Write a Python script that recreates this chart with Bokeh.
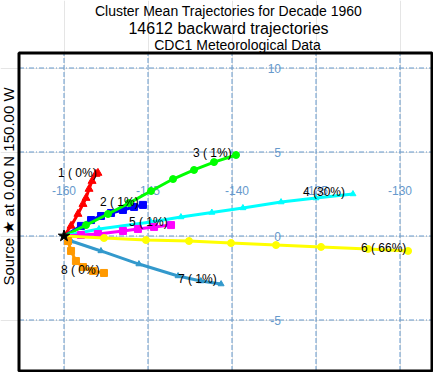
from bokeh.plotting import figure
from bokeh.models import Range1d
from bokeh.core.properties import value
from bokeh.embed import file_html
from bokeh.resources import INLINE

# ---------------- data ----------------
title_lines = ["Cluster Mean Trajectories for Decade 1960",
               "14612 backward trajectories",
               "CDC1 Meteorological Data"]
side_text = "Source \u2605 at 0.00 N 150.00 W"

source_lon = [-150.0]
source_lat = [0.0]

lon_grid = [-150, -145, -140, -135, -130]
lon_grid_labels = ["-160", "-145", "-140", "-135", "-130"]
lat_grid = [10, 5, 0, -5]
lat_grid_labels = ["10", "5", "0", "-5"]

cluster_labels = ["1 ( 0%)", "2 ( 1%)", "3 ( 1%)", "4 (30%)",
                  "5 ( 1%)", "6 ( 66%)", "7 ( 1%)", "8 ( 0%)"]

c1_lon = [-150.0, -149.58, -149.17, -148.87, -148.69, -148.51, -148.33, -148.10, -147.98]
c1_lat = [0.0, 0.60, 1.31, 1.90, 2.26, 2.80, 3.27, 3.69, 3.75]

c2_lon = [-150.0, -148.99, -148.39, -147.80, -147.20, -146.49, -145.83, -145.30]
c2_lat = [0.0, 0.60, 0.95, 1.19, 1.37, 1.55, 1.73, 1.85]

c3_lon = [-150.0, -148.69, -147.38, -146.13, -144.82, -143.51, -142.26, -141.07, -139.76]
c3_lat = [0.0, 0.65, 1.31, 1.96, 2.68, 3.39, 3.93, 4.40, 4.82]

c4_lon = [-150.0, -147.92, -144.82, -143.04, -141.20, -139.35, -137.08, -135.00, -132.80]
c4_lat = [0.0, 0.42, 0.83, 1.13, 1.40, 1.67, 2.02, 2.26, 2.50]

c5_lon = [-150.0, -148.99, -147.98, -146.49, -145.60, -144.64, -143.63]
c5_lat = [0.0, 0.06, 0.12, 0.30, 0.42, 0.54, 0.65]

c6_lon = [-150.0, -147.62, -145.12, -142.56, -140.06, -137.38, -134.70, -131.90, -129.52]
c6_lat = [0.0, -0.12, -0.24, -0.30, -0.42, -0.54, -0.65, -0.77, -0.89]

c7_lon = [-150.0, -149.58, -147.80, -145.54, -143.21, -141.85, -140.65]
c7_lat = [0.0, -0.30, -0.89, -1.67, -2.38, -2.68, -2.86]

c8_lon = [-150.0, -149.76, -149.58, -149.29, -148.87, -148.27, -147.62]
c8_lat = [0.0, -0.30, -0.89, -1.49, -1.85, -2.08, -2.20]

label_lon = [-150.357, -147.857, -142.321, -135.774, -146.131, -132.321, -143.214, -150.179]
label_lat = [3.75, 2.024, 4.940, 2.619, 0.833, -0.714, -2.560, -2.024]

# ---------------- styles ----------------
colors = ["#ff0000", "#0000ff", "#00ff00", "#00ffff",
          "#ff00ff", "#ffff00", "#3399cc", "#ff9900"]
markers = ["triangle", "square", "circle", "triangle",
           "square", "circle", "triangle", "square"]
msizes = [8, 7, 7, 6, 7, 7, 6, 7]
FONT = "Liberation Sans"
GRID_COLOR = "#6699cc"

# ---------------- geometry (reference pixel -> map degrees) ----------------
W, H = 433, 372
PX = 16.8                          # pixels per degree
SRC_X, SRC_Y = 63.5, 235.5         # pixel of the source point


def ref_lon(px):
    return -150.0 + (px - SRC_X) / PX


def ref_lat(py):
    return (SRC_Y - py) / PX


x0, x1 = ref_lon(0), ref_lon(W)
y1, y0 = ref_lat(0), ref_lat(H)

p = figure(width=W, height=H, output_backend="svg", toolbar_location=None,
           x_range=Range1d(x0, x1), y_range=Range1d(y0, y1),
           x_axis_location=None, y_axis_location=None,
           min_border=0)
p.title.visible = False
p.outline_line_color = None
p.background_fill_color = "white"
p.border_fill_color = "white"

# map box
box_l, box_r = ref_lon(18.5), ref_lon(W - 1.5)
box_t, box_b = ref_lat(52.5), ref_lat(H - 1.5)

# grid lines
p.segment(x0=lon_grid, x1=lon_grid, y0=[box_b] * len(lon_grid), y1=[box_t] * len(lon_grid),
          line_color=GRID_COLOR, line_width=1, line_dash="5 2")
p.segment(x0=[box_l] * len(lat_grid), x1=[box_r] * len(lat_grid), y0=lat_grid, y1=lat_grid,
          line_color=GRID_COLOR, line_width=1, line_dash="5 2 1 2")

# grid labels
lon_lab_x = list(lon_grid)
lon_lab_x[2] = lon_grid[2] + 0.3
p.text(x=lon_lab_x, y=[ref_lat(190)] * len(lon_grid), text=lon_grid_labels,
       text_color=GRID_COLOR, text_font=value(FONT), text_font_size="12px",
       text_align="center", text_baseline="middle")
p.text(x=[ref_lon(280.5)] * len(lat_grid), y=lat_grid, text=lat_grid_labels,
       text_color=GRID_COLOR, text_font=value(FONT), text_font_size="12px",
       text_align="right", text_baseline="middle")

# trajectories
all_lon = [c1_lon, c2_lon, c3_lon, c4_lon, c5_lon, c6_lon, c7_lon, c8_lon]
all_lat = [c1_lat, c2_lat, c3_lat, c4_lat, c5_lat, c6_lat, c7_lat, c8_lat]
for lo, la, c, m, s in zip(all_lon, all_lat, colors, markers, msizes):
    p.line(lo, la, line_color=c, line_width=3)
    p.scatter(lo[1:], la[1:], marker=m, size=s, fill_color=c, line_color=c)

p.scatter(source_lon, source_lat, marker="star", size=12,
          fill_color="black", line_color="black")

p.text(x=label_lon, y=label_lat, text=cluster_labels, text_color="black",
       text_font=value(FONT), text_font_size="12px",
       text_align="left", text_baseline="middle")

# box outline
p.quad(left=[box_l], right=[box_r], top=[box_t], bottom=[box_b],
       fill_alpha=0, line_color="black", line_width=3)

# titles
title_sizes = ["14px", "16px", "14px"]
title_y = [10.5, 27.5, 44.5]
title_x = [228, 228, 237]
p.text(x=[ref_lon(t) for t in title_x], y=[ref_lat(t) for t in title_y],
       text=title_lines, text_font=value(FONT), text_font_size=title_sizes,
       text_align="center", text_baseline="alphabetic", text_color="black")

p.text(x=[ref_lon(8)], y=[ref_lat(186)], text=[side_text], text_font=value(FONT),
       text_font_size="15px", text_align="center", text_baseline="middle",
       angle=1.5708, text_color="black")

open("out.html", "w").write(file_html(p, INLINE))
